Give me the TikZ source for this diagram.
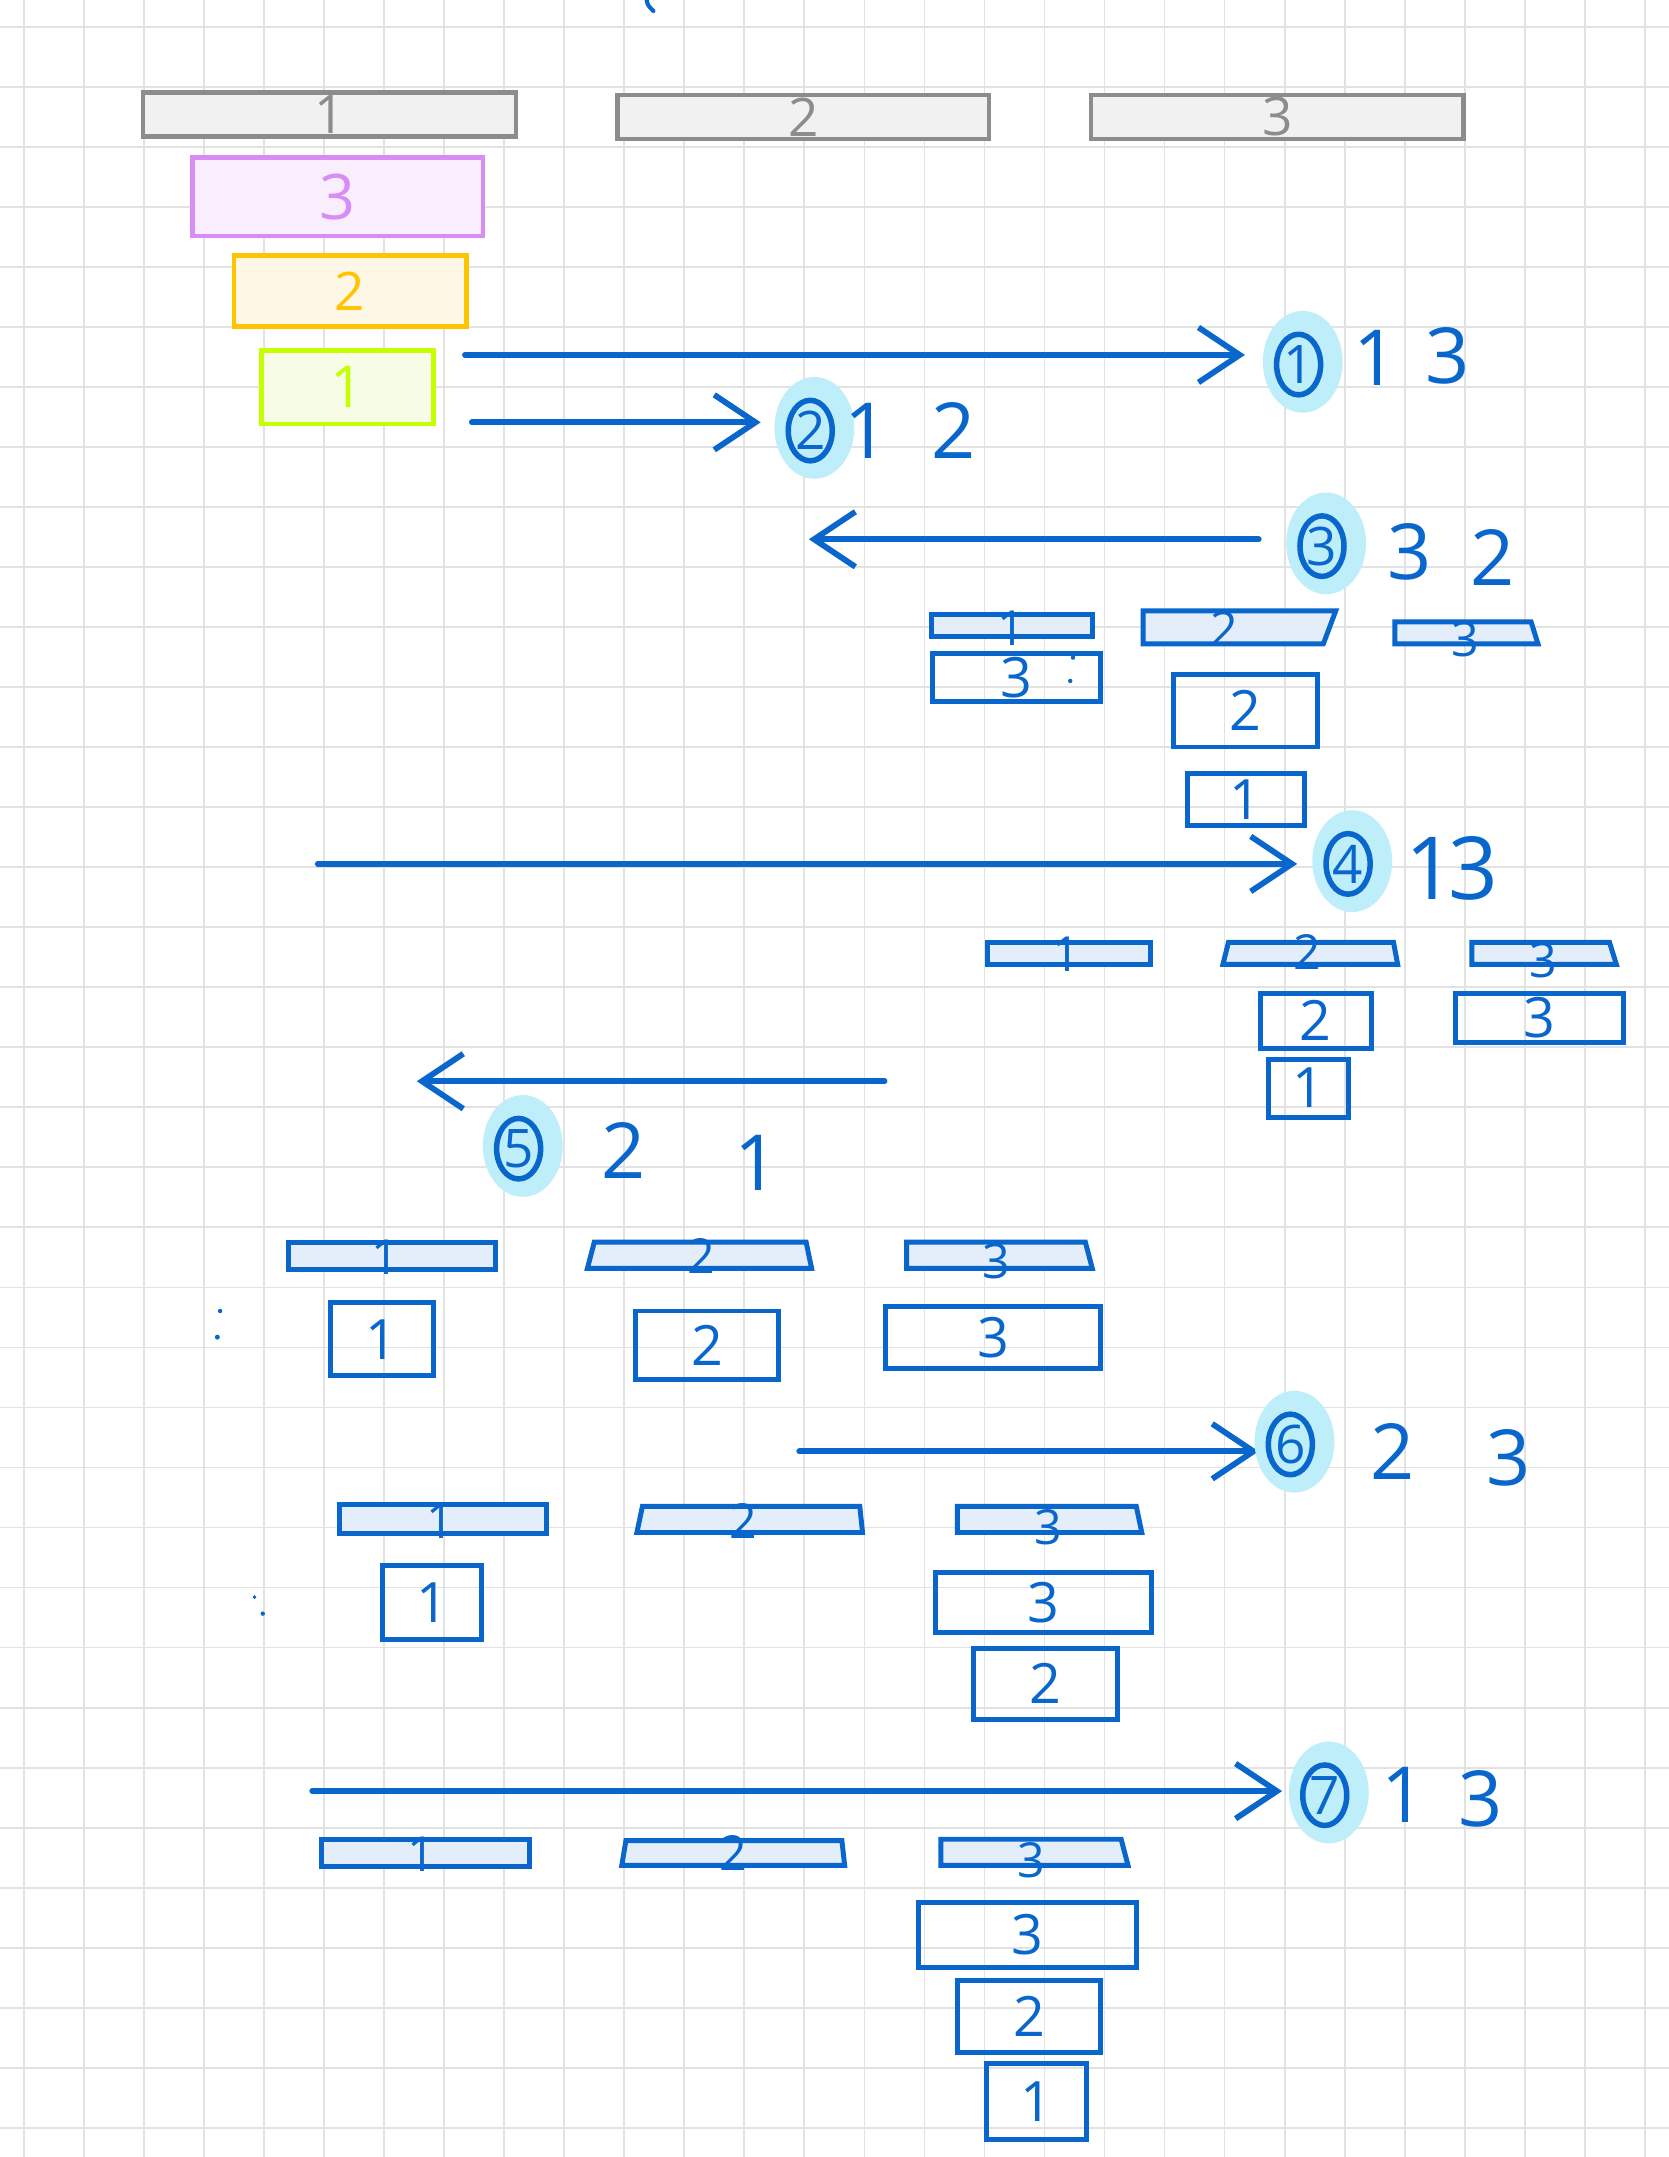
\documentclass[tikz,border=0pt]{standalone}
\usepackage{fontspec}
\setmainfont{Open Sans}
\usetikzlibrary{arrows.meta,shapes.geometric}
\definecolor{ink}{RGB}{8,102,204}
\definecolor{barfill}{RGB}{227,238,250}
\definecolor{hilite}{RGB}{190,238,250}
\definecolor{gridc}{RGB}{226,226,226}
\definecolor{pegline}{RGB}{140,140,140}
\definecolor{pegfill}{RGB}{241,241,241}
\definecolor{purpline}{RGB}{217,140,245}
\definecolor{purpfill}{RGB}{248,238,253}
\definecolor{orgline}{RGB}{255,196,0}
\definecolor{orgfill}{RGB}{255,247,230}
\definecolor{limeline}{RGB}{198,255,0}
\definecolor{limefill}{RGB}{246,252,230}
\newcommand\discnode[6]{\node[disc, minimum width={(#4-#2)*0.1mm}, minimum height={(#5-#3)*0.1mm}] (#1) at ({(#2+#4)/2},{(#3+#5)/2}) {#6};}
\newcommand\stepmark[4]{\fill[hilite] ({#2+3},{#3-2}) ellipse [x radius=2.9mm, y radius=3.7mm];
  \node[stepc] (#1) at (#2,#3) {#4};}
\begin{document}
\begin{tikzpicture}[x=0.1mm,y=-0.1mm,
  gridline/.style={draw=gridc, line width=0.13mm},
  arr/.style={draw=ink, line width=0.42mm, line cap=round, -{Straight Barb[length=3mm,width=4mm,line width=0.42mm]}},
  disc/.style={draw=ink, line width=0.36mm, rectangle, inner sep=0pt, text=ink, font=\fontsize{11.5}{11.5}\selectfont},
  barline/.style={draw=ink, fill=barfill, line width=0.36mm},
  barlbl/.style={text=ink, inner sep=0pt, font=\fontsize{10}{10}\selectfont},
  annot/.style={text=ink, inner sep=0pt, font=\fontsize{16}{16}\selectfont},
  stepc/.style={ellipse, draw=ink, line width=0.4mm, minimum width=3.2mm, minimum height=4.4mm, inner sep=0pt, text=ink, font=\fontsize{11}{11}\selectfont},
  peg/.style={rectangle, draw=pegline, fill=pegfill, line width=0.34mm, inner sep=0pt, text=pegline, font=\fontsize{11}{11}\selectfont},
  dot/.style={fill=ink}
]
\useasboundingbox (0,0) rectangle (1213,1568);
\fill[white] (0,0) rectangle (1213,1568);
\foreach \k in {0,...,27} \draw[gridline] ({17.4+43.64*\k},0) -- ++(0,1568);
\foreach \k in {0,...,35} \draw[gridline] (0,{19.4+43.64*\k}) -- ++(1213,0);

% tiny mark at top
\draw[ink, line width=0.3mm, line cap=round] (470,0) .. controls (471,4) .. (475,8);

% ---- initial state ----
\node[peg, minimum width=27.1mm, minimum height=3.2mm] (P1) at (239.5,83) {1};
\node[peg, minimum width=27.0mm, minimum height=3.2mm] (P2) at (584,85) {2};
\node[peg, minimum width=27.1mm, minimum height=3.2mm] (P3) at (928.5,85) {3};
\node[rectangle, draw=purpline, fill=purpfill, line width=0.34mm, minimum width=21.1mm, minimum height=5.6mm, text=purpline, font=\fontsize{13}{13}\selectfont] (D3) at (245.5,143) {3};
\node[rectangle, draw=orgline, fill=orgfill, line width=0.34mm, minimum width=16.9mm, minimum height=5.1mm, text=orgline, font=\fontsize{11}{11}\selectfont] (D2) at (254.5,211.5) {2};
\node[rectangle, draw=limeline, fill=limefill, line width=0.34mm, minimum width=12.5mm, minimum height=5.3mm, text=limeline, font=\fontsize{12}{12}\selectfont] (D1) at (252.5,281.5) {1};

% ---- step 1 ----
\coordinate (a1s) at (338,258); \coordinate (a1e) at (905,258);
\draw[arr] (a1s) -- (a1e);
\stepmark{s1}{944}{265}{1}
\node[annot] (t1a) at (1000,260) {1};
\node[annot] (t1b) at (1052,259) {3};

% ---- step 2 ----
\coordinate (a2s) at (343,307); \coordinate (a2e) at (553,307);
\draw[arr] (a2s) -- (a2e);
\stepmark{s2}{589}{313}{2}
\node[annot] (t2a) at (630,313) {1};
\node[annot] (t2b) at (693,313) {2};

% ---- step 3 ----
\coordinate (a3s) at (915,392); \coordinate (a3e) at (588,392);
\draw[arr] (a3s) -- (a3e);
\stepmark{s3}{961}{397}{3}
\node[annot] (t3a) at (1025,401) {3};
\node[annot] (t3b) at (1085,405) {2};

% state after 3
\draw[barline] (677,447) rectangle (794,463);
\node[barlbl] (b3p1) at (735,457) {1};
\draw[barline] (831,444) -- (971,444) -- (962,468) -- (831,468) -- cycle;
\node[barlbl] (b3p2) at (890,457) {2};
\draw[barline] (1014,452) -- (1113,452) -- (1118,468) -- (1014,468) -- cycle;
\node[barlbl] (b3p3) at (1065,465) {3};
\discnode{b3d3}{678}{475}{800}{510}{3}
\fill[dot] (780,478) circle (1.6); \fill[dot] (778,495) circle (1.6);
\discnode{b3d2}{853}{490}{958}{543}{2}
\discnode{b3d1}{863}{562}{948}{600}{1}

% ---- step 4 ----
\coordinate (a4s) at (231,628); \coordinate (a4e) at (943,628);
\draw[arr] (a4s) -- (a4e);
\stepmark{s4}{980}{628}{4}
\node[annot, font=\fontsize{18}{18}\selectfont] (t4a) at (1040,631) {1};
\node[annot, font=\fontsize{18}{18}\selectfont] (t4b) at (1071,631) {3};

% state after 4
\draw[barline] (718,685) rectangle (836,701);
\node[barlbl] (b4p1) at (775,694) {1};
\draw[barline] (893,685) -- (1013,685) -- (1016,701) -- (889,701) -- cycle;
\node[barlbl] (b4p2) at (950,692) {2};
\draw[barline] (1070,685) -- (1170,685) -- (1175,701) -- (1070,701) -- cycle;
\node[barlbl] (b4p3) at (1122,698) {3};
\discnode{b4d2}{916}{722}{997}{762}{2}
\discnode{b4d1}{922}{770}{980}{812}{1}
\discnode{b4d3}{1058}{722}{1180}{758}{3}

% ---- step 5 ----
\coordinate (a5s) at (643,786); \coordinate (a5e) at (303,786);
\draw[arr] (a5s) -- (a5e);
\stepmark{s5}{377}{835}{5}
\node[annot] (t5a) at (453,836) {2};
\node[annot] (t5b) at (550,845) {1};

% state after 5
\draw[barline] (210,903) rectangle (360,923);
\node[barlbl] (b5p1) at (280,914) {1};
\draw[barline] (432,903) -- (586,903) -- (590,922) -- (427,922) -- cycle;
\node[barlbl] (b5p2) at (510,913) {2};
\draw[barline] (659,903) -- (789,903) -- (794,922) -- (659,922) -- cycle;
\node[barlbl] (b5p3) at (724,917) {3};
\fill[dot] (160,953) circle (1.6); \fill[dot] (158,972) circle (1.8);
\discnode{b5d1}{240}{947}{315}{1000}{1}
\discnode{b5d2}{462}{953}{566}{1003}{2}
\discnode{b5d3}{644}{950}{800}{995}{3}

% ---- step 6 ----
\coordinate (a6s) at (581,1055); \coordinate (a6e) at (915,1055);
\draw[arr] (a6s) -- (a6e);
\stepmark{s6}{938}{1050}{6}
\node[annot] (t6a) at (1012,1055) {2};
\node[annot] (t6b) at (1097,1060) {3};

% state after 6
\draw[barline] (247,1094) rectangle (397,1115);
\node[barlbl] (b6p1) at (320,1106) {1};
\draw[barline] (467,1095) -- (625,1095) -- (627,1114) -- (463,1114) -- cycle;
\node[barlbl] (b6p2) at (540,1106) {2};
\draw[barline] (696,1095) -- (826,1095) -- (830,1114) -- (696,1114) -- cycle;
\node[barlbl] (b6p3) at (762,1110) {3};
\fill[dot] (185,1161) circle (1.4); \fill[dot] (191,1173) circle (1.6);
\discnode{b6d1}{278}{1138}{350}{1192}{1}
\discnode{b6d3}{680}{1143}{837}{1187}{3}
\discnode{b6d2}{708}{1198}{812}{1250}{2}

% ---- step 7 ----
\coordinate (a7s) at (227,1302); \coordinate (a7e) at (932,1302);
\draw[arr] (a7s) -- (a7e);
\stepmark{s7}{963}{1305}{7}
\node[annot] (t7a) at (1020,1305) {1};
\node[annot] (t7b) at (1076,1308) {3};

% state after 7
\draw[barline] (234,1337) rectangle (385,1357);
\node[barlbl] (b7p1) at (306,1348) {1};
\draw[barline] (455,1338) -- (612,1338) -- (614,1356) -- (452,1356) -- cycle;
\node[barlbl] (b7p2) at (533,1347) {2};
\draw[barline] (684,1337) -- (815,1337) -- (820,1356) -- (684,1356) -- cycle;
\node[barlbl] (b7p3) at (750,1352) {3};
\discnode{b7d3}{668}{1383}{826}{1430}{3}
\discnode{b7d2}{696}{1440}{800}{1492}{2}
\discnode{b7d1}{717}{1500}{790}{1555}{1}
\end{tikzpicture}
\end{document}
